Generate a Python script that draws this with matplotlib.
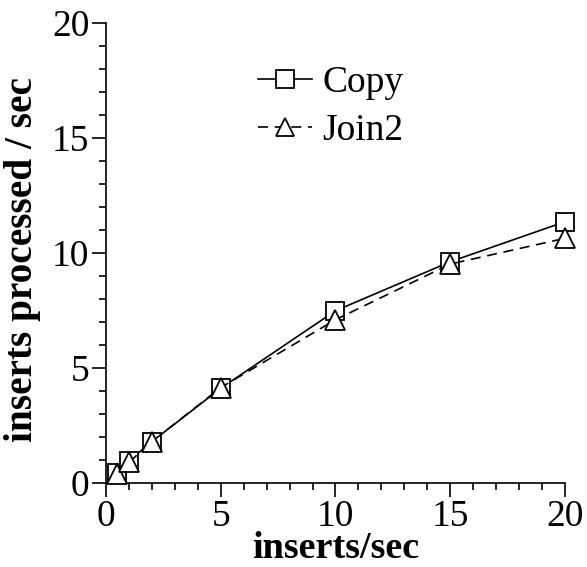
import matplotlib
matplotlib.use("Agg")
import matplotlib.pyplot as plt
from matplotlib.ticker import MultipleLocator

plt.rcParams['font.family'] = ['Liberation Serif', 'DejaVu Serif']

x = [0.5, 1, 2, 5, 10, 15, 20]
copy_vals = [0.43, 0.96, 1.8, 4.12, 7.49, 9.62, 11.36]
join2_vals = [0.4, 0.9, 1.8, 4.15, 7.1, 9.52, 10.64]

fig = plt.figure(figsize=(5.87, 5.67), dpi=100)
ax = fig.add_axes([0.1806, 0.1481, 0.7819, 0.8113])

ax.plot(x, copy_vals, '-', color='black', lw=1.2, marker='s', ms=13,
        mfc='white', mec='black', mew=1.3, label='Copy', clip_on=False, zorder=3)
ax.plot(x, join2_vals, '--', color='black', lw=1.2, marker='^', ms=14,
        mfc='white', mec='black', mew=1.3, label='Join2', dashes=(6, 4),
        clip_on=False, zorder=4)

ax.set_xlim(0, 20)
ax.set_ylim(0, 20)
ax.xaxis.set_major_locator(MultipleLocator(5))
ax.xaxis.set_minor_locator(MultipleLocator(1))
ax.yaxis.set_major_locator(MultipleLocator(5))
ax.yaxis.set_minor_locator(MultipleLocator(1))
ax.tick_params(which='major', direction='out', length=10, width=1.2, labelsize=27, pad=2)
ax.tick_params(which='minor', direction='out', length=5, width=1.2)
for s in ['top', 'right']:
    ax.spines[s].set_visible(False)
for s in ['left', 'bottom']:
    ax.spines[s].set_linewidth(1.2)

ax.set_xlabel('inserts/sec', fontsize=27.5, fontweight='bold', labelpad=-2)
ax.set_ylabel('inserts processed / sec', fontsize=28.3, fontweight='bold')
ax.yaxis.set_label_coords(-0.141, 0.487)

leg = ax.legend(loc='upper left', bbox_to_anchor=(0.298, 0.94), frameon=False,
                fontsize=27, handlelength=1.45, handletextpad=0.27, labelspacing=0.35,
                borderaxespad=0)
for h in leg.legend_handles:
    h.set_markersize(13)

fig.savefig('out.png', dpi=100)
